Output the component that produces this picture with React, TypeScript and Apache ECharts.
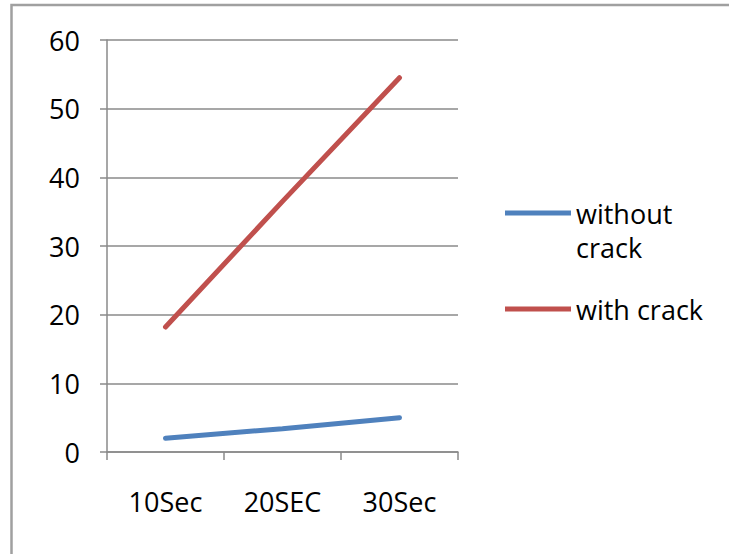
import React, { useEffect, useRef } from "react";
import * as echarts from "echarts";

const categories = ["10Sec", "20SEC", "30Sec"];
const withoutCrack = [2, 3.4, 5];
const withCrack = [18.2, 36.5, 54.5];
const seriesNames = ["without crack", "with crack"];
const yTicks = { min: 0, max: 60, interval: 10 };

const FONT = "'Open Sans', sans-serif";
const GRID_COLOR = "#8a8a8a";
const LINE_H = 34;

const legendBase = {
  orient: "vertical",
  left: 505,
  padding: 0,
  itemWidth: 66,
  itemHeight: 5,
  icon: "rect",
  textStyle: { fontFamily: FONT, fontSize: 27, color: "#000", lineHeight: LINE_H },
};

export default function App() {
  const ref = useRef<HTMLDivElement>(null);
  useEffect(() => {
    if (!ref.current) return;
    const chart = echarts.init(ref.current, null, { renderer: "svg" });
    chart.setOption({
      animation: false,
      backgroundColor: "#ffffff",
      graphic: [
        {
          type: "rect",
          shape: { x: 11.5, y: 5, width: 800, height: 600 },
          style: { fill: "none", stroke: "#a0a0a0", lineWidth: 2.5 },
          silent: true,
        },
      ],
      grid: { left: 107, right: 271, top: 40, bottom: 102, containLabel: false },
      legend: [
        {
          ...legendBase,
          top: 162,
          data: [seriesNames[0]],
          formatter: () => "\u00a0\nwithout\ncrack",
        },
        {
          ...legendBase,
          top: 292,
          data: [seriesNames[1]],
        },
      ],
      xAxis: {
        type: "category",
        data: categories,
        boundaryGap: true,
        axisLine: { show: true, lineStyle: { color: GRID_COLOR, width: 1.5 } },
        axisTick: { show: true, length: 8, alignWithLabel: false, interval: 0, lineStyle: { color: GRID_COLOR, width: 1.5 } },
        axisLabel: { margin: 36, fontFamily: FONT, fontSize: 27, color: "#000", interval: 0 },
        splitLine: { show: false },
      },
      yAxis: {
        type: "value",
        min: yTicks.min,
        max: yTicks.max,
        interval: yTicks.interval,
        axisLine: { show: true, lineStyle: { color: GRID_COLOR, width: 1.5 } },
        axisTick: { show: true, length: 7, lineStyle: { color: GRID_COLOR, width: 1.5 } },
        axisLabel: { margin: 27, fontFamily: FONT, fontSize: 27, color: "#000" },
        splitLine: { show: true, lineStyle: { color: GRID_COLOR, width: 1.5 } },
      },
      series: [
        {
          name: seriesNames[0],
          type: "line",
          data: withoutCrack,
          symbol: "none",
          color: "#4F81BD",
          lineStyle: { width: 5, color: "#4F81BD", cap: "round" },
        },
        {
          name: seriesNames[1],
          type: "line",
          data: withCrack,
          symbol: "none",
          color: "#C0504D",
          lineStyle: { width: 5, color: "#C0504D", cap: "round" },
        },
      ],
    });
    return () => chart.dispose();
  }, []);
  return (
    <div
      ref={ref}
      style={{ position: "fixed", left: 0, top: 0, width: 729, height: 554 }}
    />
  );
}
